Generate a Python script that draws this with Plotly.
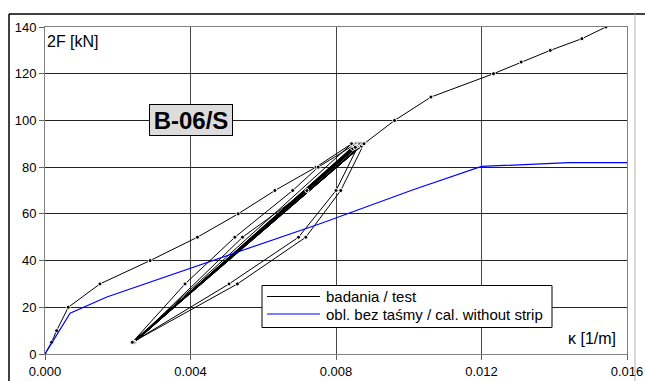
import plotly.graph_objects as go

# ---- data ----
test_kappa = [0.0, 0.00018, 0.00032, 0.00064, 0.00151, 0.00289, 0.00419, 0.00531, 0.00632, 0.00745, 0.00843,
              0.00240, 0.00385, 0.00522, 0.00681, 0.00751, 0.00855,
              0.00243, 0.00846, 0.00245, 0.00850, 0.00242, 0.00858, 0.00246, 0.00860, 0.00242,
              0.00862, 0.00244, 0.00864, 0.00241, 0.00853, 0.00245,
              0.00543, 0.00720, 0.00864,
              0.00800, 0.00697, 0.00506, 0.00240,
              0.00868, 0.00243, 0.00870, 0.00241, 0.00873, 0.00244,
              0.00877, 0.00813, 0.00717, 0.00529, 0.00240,
              0.00877, 0.00961, 0.01061, 0.01233, 0.01309, 0.01389, 0.01476, 0.01542]
test_force = [0, 5, 10, 20, 30, 40, 50, 60, 70, 80, 90,
              5, 30, 50, 70, 80, 90,
              5, 88, 5, 89, 5, 89, 5, 90, 5,
              89.5, 5, 90, 5, 88.5, 5,
              50, 70, 90,
              70, 50, 30, 5,
              90, 5, 89, 5, 90, 5,
              90, 70, 50, 30, 5,
              90, 100, 110, 120, 125, 130, 135, 140]

calc_kappa = [0.0, 0.00069, 0.0017, 0.0076, 0.0101, 0.0120, 0.0144, 0.0161]
calc_force = [0, 17.5, 24.4, 56.0, 70.2, 80.3, 81.9, 81.9]

x_ticks = [0.000, 0.004, 0.008, 0.012, 0.016]
x_tick_labels = ["0.000", "0.004", "0.008", "0.012", "0.016"]
y_ticks = [0, 20, 40, 60, 80, 100, 120, 140]

name_test = "badania / test"
name_calc = "obl. bez taśmy / cal. without strip"
specimen = "B-06/S"
y_title = "2F [kN]"
x_title = "κ [1/m]"

FONT = "Liberation Sans, Arial, sans-serif"

fig = go.Figure()
fig.add_trace(go.Scatter(
    x=test_kappa, y=test_force, name=name_test, mode="lines+markers",
    line=dict(color="black", width=1),
    marker=dict(size=4, color="black", line=dict(color="white", width=1)),
    showlegend=False,
))
fig.add_trace(go.Scatter(
    x=calc_kappa, y=calc_force, name=name_calc, mode="lines",
    line=dict(color="#0000ff", width=1.2),
    showlegend=False,
))

L, R, T, B = 45, 18, 27, 27
W, H = 645, 381
pw, ph = W - L - R, H - T - B

def px2x(px):
    return (px - L) / pw

def py2y(py):
    return (H - B - py) / ph

fig.update_layout(
    width=W, height=H,
    margin=dict(l=L, r=R, t=T, b=B, pad=0, autoexpand=False),
    paper_bgcolor="white", plot_bgcolor="white",
    font=dict(family=FONT, size=13, color="black"),
    showlegend=False,
    xaxis=dict(
        range=[0, 0.016], tickvals=x_ticks, ticktext=x_tick_labels, automargin=False,
        showgrid=True, gridcolor="#444444", gridwidth=1,
        showline=True, linecolor="#808080", linewidth=1, mirror=True,
        ticks="outside", ticklen=5, tickcolor="#606060",
        zeroline=False, tickfont=dict(size=13, family=FONT, color="black"),
    ),
    yaxis=dict(
        range=[0, 140], tickvals=y_ticks, automargin=False,
        showgrid=True, gridcolor="#222222", gridwidth=1,
        showline=True, linecolor="#808080", linewidth=1, mirror=True,
        ticks="outside", ticklen=5, tickcolor="#606060",
        zeroline=False, tickfont=dict(size=13, family=FONT, color="black"),
    ),
)

# outer chart frame
fig.add_shape(type="line", xref="paper", yref="paper",
              x0=px2x(9), x1=px2x(645), y0=py2y(14), y1=py2y(14),
              line=dict(color="black", width=1.5))
fig.add_shape(type="line", xref="paper", yref="paper",
              x0=px2x(9), x1=px2x(9), y0=py2y(14), y1=py2y(385),
              line=dict(color="black", width=1.5))
fig.add_shape(type="line", xref="paper", yref="paper",
              x0=px2x(635), x1=px2x(635), y0=py2y(14), y1=py2y(385),
              line=dict(color="#b0b0b0", width=1))

# legend box (drawn by hand to match the original's compact layout)
fig.add_shape(type="rect", xref="paper", yref="paper",
              x0=px2x(262), x1=px2x(552), y0=py2y(285.5), y1=py2y(327.5),
              line=dict(color="black", width=1), fillcolor="white", layer="above")
legend_items = [(name_test, "black", 1.0, 296.5), (name_calc, "#0000ff", 1.2, 314.0)]
for label, col, lw, yy in legend_items:
    fig.add_shape(type="line", xref="paper", yref="paper",
                  x0=px2x(267), x1=px2x(320), y0=py2y(yy), y1=py2y(yy),
                  line=dict(color=col, width=lw), layer="above")
    fig.add_annotation(xref="paper", yref="paper", x=px2x(324), y=py2y(yy),
                       xanchor="left", yanchor="middle", text=label, showarrow=False,
                       font=dict(family=FONT, size=15, color="black"))

fig.add_annotation(
    xref="paper", yref="paper", x=0, y=py2y(41), xanchor="left", yanchor="middle",
    text=y_title, showarrow=False, font=dict(family=FONT, size=16, color="black"),
)
fig.add_annotation(
    xref="paper", yref="paper", x=px2x(618), y=py2y(338), xanchor="right", yanchor="middle",
    text=x_title, showarrow=False, font=dict(family=FONT, size=16, color="black"),
)
fig.add_annotation(
    x=0.00401, y=100, xref="x", yref="y", xanchor="center", yanchor="middle",
    text="<b>" + specimen + "</b>", showarrow=False,
    font=dict(family=FONT, size=24, color="black"),
    bgcolor="#dcdcdc", bordercolor="black", borderwidth=1, borderpad=3,
    width=76, height=24,
)

fig.write_html(
    "out.html",
    config={"displayModeBar": False},
    post_script="document.body.style.margin='0px'; document.body.style.overflow='hidden';",
)
